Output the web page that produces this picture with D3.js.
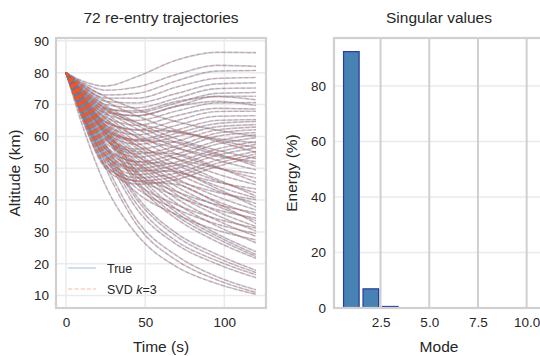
<!DOCTYPE html>
<html lang="en">
<head>
    <meta charset="utf-8">
    <title>Re-entry trajectories / SVD</title>
    <style>
        body { margin: 0; background-color: #fff; }
        svg text { font-family: Arial, 'Liberation Sans', sans-serif; fill: #262626; }
    </style>
    <script src="https://d3js.org/d3.v7.min.js" charset="utf-8"></script>
</head>
<body>
    <svg id="fig" width="540" height="356"></svg>

    <script type="text/javascript">
    // sample times (s) for every trajectory row below
    var sampleTimes = [0, 10, 25, 45, 70, 95, 120];

    // altitude (km) of the 72 trajectories at sampleTimes
    var altitudes = [
        [80, 77.5, 75.8, 78.8, 84.0, 86.4, 86.3],
        [80, 77.0, 74.5, 75.5, 79.5, 82.3, 82.0],
        [80, 76.5, 73.0, 73.5, 77.5, 80.5, 80.7],
        [80, 76.0, 72.0, 72.0, 75.5, 78.2, 78.5],
        [80, 76.0, 71.0, 70.5, 73.5, 76.5, 76.8],
        [80, 75.5, 70.0, 69.0, 72.0, 75.0, 75.2],
        [80, 75.0, 69.0, 67.5, 70.5, 73.5, 73.8],
        [80, 74.5, 68.0, 66.5, 69.5, 72.6, 72.6],
        [80, 74.5, 68.5, 68.0, 71.0, 72.5, 71.5],
        [80, 74.0, 67.0, 65.0, 68.0, 70.5, 70.6],
        [80, 74.0, 67.5, 66.5, 69.5, 71.0, 69.7],
        [80, 73.5, 66.0, 63.5, 66.5, 68.8, 68.6],
        [80, 73.0, 64.5, 62.0, 65.0, 67.8, 67.9],
        [80, 72.5, 63.5, 60.5, 63.5, 66.3, 66.5],
        [80, 72.0, 62.5, 59.0, 62.0, 65.0, 65.3],
        [80, 72.0, 62.0, 58.5, 61.0, 64.0, 64.7],
        [80, 71.5, 61.0, 57.5, 60.0, 63.0, 63.7],
        [80, 71.0, 60.0, 56.0, 58.5, 62.0, 62.9],
        [80, 70.5, 59.0, 54.5, 57.0, 61.0, 62.1],
        [80, 70.0, 58.0, 53.5, 56.0, 60.0, 61.2],
        [80, 69.5, 57.0, 52.0, 54.5, 58.5, 60.5],
        [80, 69.0, 56.0, 51.0, 53.5, 57.5, 59.6],
        [80, 68.5, 55.0, 50.0, 52.0, 56.0, 58.4],
        [80, 68.0, 54.0, 49.0, 51.0, 55.0, 57.5],
        [80, 67.5, 53.0, 48.0, 50.0, 54.0, 56.4],
        [80, 67.0, 52.0, 47.0, 48.5, 52.5, 55.3],
        [80, 66.5, 51.0, 46.0, 47.5, 51.5, 54.5],
        [80, 66.0, 50.0, 45.0, 46.5, 50.5, 53.7],
        [80, 76.6, 72.4, 68.4, 64.6, 62.0, 60.0],
        [80, 74.5, 68.6, 64.2, 61.3, 59.3, 58.0],
        [80, 76.0, 71.1, 66.4, 61.9, 58.9, 56.5],
        [80, 72.5, 64.5, 62.0, 61.5, 58.5, 55.0],
        [80, 75.4, 69.7, 64.3, 59.2, 55.7, 53.0],
        [80, 73.0, 65.5, 59.9, 56.3, 53.8, 52.1],
        [80, 75.1, 69.1, 63.4, 58.0, 54.3, 51.4],
        [80, 71.2, 61.8, 58.8, 58.2, 54.7, 50.6],
        [80, 74.8, 68.4, 62.3, 56.5, 52.6, 49.5],
        [80, 72.0, 63.5, 57.1, 53.0, 50.1, 48.2],
        [80, 74.4, 67.4, 60.8, 54.5, 50.2, 46.9],
        [80, 69.7, 58.7, 55.2, 54.5, 50.4, 45.6],
        [80, 74.0, 66.6, 59.6, 52.9, 48.3, 44.8],
        [80, 70.9, 61.0, 53.7, 49.0, 45.7, 43.5],
        [80, 73.6, 65.7, 58.1, 51.0, 46.1, 42.3],
        [80, 68.4, 55.9, 52.1, 51.3, 46.6, 41.2],
        [80, 73.3, 65.0, 57.1, 49.7, 44.5, 40.6],
        [80, 70.0, 59.3, 51.3, 46.1, 42.5, 40.1],
        [80, 73.0, 64.4, 56.2, 48.4, 43.0, 38.9],
        [80, 67.3, 53.8, 49.6, 48.8, 43.7, 37.8],
        [80, 72.7, 63.6, 55.0, 46.8, 41.2, 36.9],
        [80, 69.0, 57.1, 48.3, 42.6, 38.6, 36.0],
        [80, 72.4, 63.0, 54.0, 45.5, 39.7, 35.2],
        [80, 68.6, 56.2, 47.1, 41.2, 37.0, 34.3],
        [80, 72.1, 62.3, 53.0, 44.2, 38.2, 33.5],
        [80, 65.8, 50.6, 45.9, 44.9, 39.2, 32.6],
        [80, 71.8, 61.6, 52.0, 42.8, 36.5, 31.7],
        [80, 67.8, 54.6, 44.9, 38.5, 34.1, 31.2],
        [80, 71.6, 61.1, 51.2, 41.7, 35.3, 30.3],
        [80, 67.4, 53.7, 43.6, 37.1, 32.5, 29.5],
        [80, 71.3, 60.5, 50.2, 40.4, 33.7, 28.6],
        [80, 66.9, 52.7, 42.2, 35.4, 30.6, 27.5],
        [80, 70.9, 59.7, 49.0, 38.9, 31.9, 26.6],
        [80, 73.5, 63.0, 48.5, 37.0, 29.5, 23.8],
        [80, 73.0, 62.0, 47.5, 36.0, 28.8, 22.9],
        [80, 72.5, 61.0, 46.0, 35.0, 28.0, 22.3],
        [80, 72.0, 60.0, 45.0, 34.0, 27.0, 21.7],
        [80, 71.0, 57.5, 41.0, 29.5, 23.0, 17.9],
        [80, 70.5, 56.5, 40.0, 28.5, 22.0, 17.2],
        [80, 70.0, 55.5, 38.5, 27.0, 21.0, 16.5],
        [80, 69.0, 54.0, 37.0, 26.0, 20.0, 15.6],
        [80, 68.0, 51.5, 33.5, 22.5, 16.0, 11.8],
        [80, 67.0, 50.0, 32.0, 21.0, 15.0, 11.0],
        [80, 64.0, 44.5, 29.0, 19.0, 13.8, 10.4]
    ];

    // singular value energy per mode (%)
    var modes = [1, 2, 3, 4, 5, 6, 7, 8, 9, 10];
    var energy = [92.4, 6.9, 0.55, 0.1, 0.03, 0.01, 0.005, 0.003, 0.002, 0.001];

    var timeTicks = [0, 50, 100];
    var altTicks = [10, 20, 30, 40, 50, 60, 70, 80, 90];
    var modeTicks = [2.5, 5.0, 7.5, 10.0];
    var energyTicks = [0, 20, 40, 60, 80];

    var svg = d3.select("#fig");

    // ---------- left panel ----------
    var xT = d3.scaleLinear().domain([-6.3, 126.3]).range([56, 266]);
    var yA = d3.scaleLinear().domain([6.1, 90.9]).range([308, 38]);

    var left = svg.append("g");

    left.selectAll(".gx").data(timeTicks).enter().append("line")
        .attr("x1", d => xT(d)).attr("x2", d => xT(d))
        .attr("y1", 38).attr("y2", 308)
        .attr("stroke", "#ebebeb").attr("stroke-width", 1.5);
    left.selectAll(".gy").data(altTicks).enter().append("line")
        .attr("y1", d => yA(d)).attr("y2", d => yA(d))
        .attr("x1", 56).attr("x2", 266)
        .attr("stroke", "#ebebeb").attr("stroke-width", 1.5);

    svg.append("clipPath").attr("id", "clipL")
        .append("rect").attr("x", 56).attr("y", 38).attr("width", 210).attr("height", 270);

    var line = d3.line()
        .x((d, i) => xT(sampleTimes[i]))
        .y(d => yA(d))
        .curve(d3.curveMonotoneX);

    var plot = left.append("g").attr("clip-path", "url(#clipL)");

    plot.selectAll(".true").data(altitudes).enter().append("path")
        .attr("d", line)
        .attr("fill", "none")
        .attr("stroke", "#3a86c8")
        .attr("stroke-opacity", 0.32)
        .attr("stroke-width", 1.6);

    // rank-3 reconstruction lies on top of the true curves
    plot.selectAll(".svd").data(altitudes).enter().append("path")
        .attr("d", line)
        .attr("fill", "none")
        .attr("stroke", "#ea5a30")
        .attr("stroke-opacity", 0.42)
        .attr("stroke-width", 1.2)
        .attr("stroke-dasharray", "4.4,1.9");

    left.append("rect")
        .attr("x", 56).attr("y", 38).attr("width", 210).attr("height", 270)
        .attr("fill", "none").attr("stroke", "#d0d0d0").attr("stroke-width", 2.2);

    left.append("g").attr("transform", "translate(0,308)")
        .call(d3.axisBottom(xT).tickValues(timeTicks).tickSize(0).tickPadding(9))
        .call(g => g.select(".domain").remove())
        .selectAll("text").attr("font-size", 13.5).attr("fill", "#262626");
    left.append("g").attr("transform", "translate(56,0)")
        .call(d3.axisLeft(yA).tickValues(altTicks).tickSize(0).tickPadding(7))
        .call(g => g.select(".domain").remove())
        .selectAll("text").attr("font-size", 13.5).attr("fill", "#262626");

    left.append("text").attr("x", 161).attr("y", 23)
        .attr("text-anchor", "middle").attr("font-size", 15.5)
        .text("72 re-entry trajectories");
    left.append("text").attr("x", 161).attr("y", 352)
        .attr("text-anchor", "middle").attr("font-size", 15.5)
        .text("Time (s)");
    left.append("text").attr("transform", "translate(20,173) rotate(-90)")
        .attr("text-anchor", "middle").attr("font-size", 15.5)
        .text("Altitude (km)");

    // legend
    var leg = left.append("g");
    leg.append("line").attr("x1", 68).attr("x2", 96).attr("y1", 268).attr("y2", 268)
        .attr("stroke", "#3a86c8").attr("stroke-opacity", 0.32).attr("stroke-width", 1.6);
    leg.append("line").attr("x1", 68).attr("x2", 96).attr("y1", 289).attr("y2", 289)
        .attr("stroke", "#ea5a30").attr("stroke-opacity", 0.42).attr("stroke-width", 1.2)
        .attr("stroke-dasharray", "4.4,1.9");
    leg.append("text").attr("x", 107).attr("y", 272.5).attr("font-size", 12.5).text("True");
    var t2 = leg.append("text").attr("x", 107).attr("y", 293.5).attr("font-size", 12.5);
    t2.append("tspan").text("SVD ");
    t2.append("tspan").attr("font-style", "italic").text("k");
    t2.append("tspan").text("=3");

    // ---------- right panel ----------
    var xM = d3.scaleLinear().domain([0.11, 10.89]).range([334, 544]);
    var yE = d3.scaleLinear().domain([0, 97.3]).range([308, 38]);

    var right = svg.append("g");

    right.selectAll(".gy").data(energyTicks).enter().append("line")
        .attr("y1", d => yE(d)).attr("y2", d => yE(d))
        .attr("x1", 334).attr("x2", 544)
        .attr("stroke", "#ebebeb").attr("stroke-width", 1.5);
    right.selectAll(".gx").data(modeTicks).enter().append("line")
        .attr("x1", d => xM(d)).attr("x2", d => xM(d))
        .attr("y1", 38).attr("y2", 308)
        .attr("stroke", "#d0d0d0").attr("stroke-width", 2);

    right.selectAll(".bar").data(energy).enter().append("rect")
        .attr("x", (d, i) => xM(modes[i] - 0.4))
        .attr("width", (d, i) => xM(modes[i] + 0.4) - xM(modes[i] - 0.4))
        .attr("y", d => yE(d))
        .attr("height", d => yE(0) - yE(d))
        .attr("fill", "#4682b4")
        .attr("stroke", "#2a3a9e")
        .attr("stroke-width", 1.2);

    right.append("rect")
        .attr("x", 334).attr("y", 38).attr("width", 210).attr("height", 270)
        .attr("fill", "none").attr("stroke", "#d0d0d0").attr("stroke-width", 2.2);

    right.append("g").attr("transform", "translate(0,308)")
        .call(d3.axisBottom(xM).tickValues(modeTicks).tickFormat(d3.format(".1f")).tickSize(0).tickPadding(9))
        .call(g => g.select(".domain").remove())
        .selectAll("text").attr("font-size", 13.5).attr("fill", "#262626");
    right.append("g").attr("transform", "translate(334,0)")
        .call(d3.axisLeft(yE).tickValues(energyTicks).tickSize(0).tickPadding(8))
        .call(g => g.select(".domain").remove())
        .selectAll("text").attr("font-size", 13.5).attr("fill", "#262626");

    right.append("text").attr("x", 439).attr("y", 23)
        .attr("text-anchor", "middle").attr("font-size", 15.5)
        .text("Singular values");
    right.append("text").attr("x", 439).attr("y", 352)
        .attr("text-anchor", "middle").attr("font-size", 15.5)
        .text("Mode");
    right.append("text").attr("transform", "translate(297,173) rotate(-90)")
        .attr("text-anchor", "middle").attr("font-size", 15.5)
        .text("Energy (%)");
    </script>
</body>
</html>
